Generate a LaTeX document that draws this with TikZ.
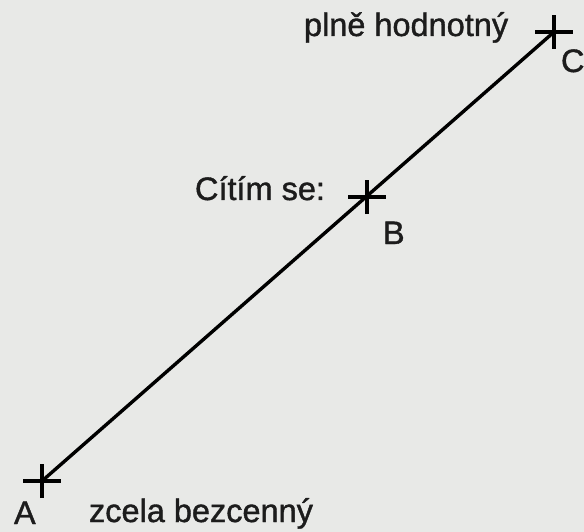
\documentclass[tikz,border=0pt]{standalone}
\usepackage{fontspec}
\setmainfont[FakeBold=1.2]{Liberation Sans}
\definecolor{paper}{RGB}{232,233,231}
\definecolor{ink}{RGB}{28,28,28}
\tikzset{
  lbl/.style={anchor=base west,inner sep=0pt,outer sep=0pt,text=ink,font=\fontsize{32.5}{33}\selectfont},
  axisline/.style={line width=3.4pt,draw=black},
  tick/.style={line width=3.2pt,draw=black}
}
\begin{document}
\begin{tikzpicture}[x=1pt,y=-1pt]
\fill[paper] (0,0) rectangle (584,532);
\useasboundingbox (0,0) rectangle (584,532);
\coordinate (A) at (42,481);
\coordinate (B) at (367,197);
\coordinate (C) at (554,32);
\draw[axisline] (A) -- (C);
\foreach \p in {A,B,C}{
  \draw[tick] ([xshift=-19pt]\p) -- ([xshift=19pt]\p);
  \draw[tick] ([yshift=-17pt]\p) -- ([yshift=17pt]\p);
}
\node[lbl] (la) at (14,524) {A};
\node[lbl] (lz) at (89,522) {zcela bezcenný};
\node[lbl] (lb) at (383,244) {B};
\node[lbl] (lcs) at (195,200) {Cítím se:};
\node[lbl] (lc) at (561,72) {C};
\node[lbl] (lp) at (304,36) {plně hodnotný};
\end{tikzpicture}
\end{document}
